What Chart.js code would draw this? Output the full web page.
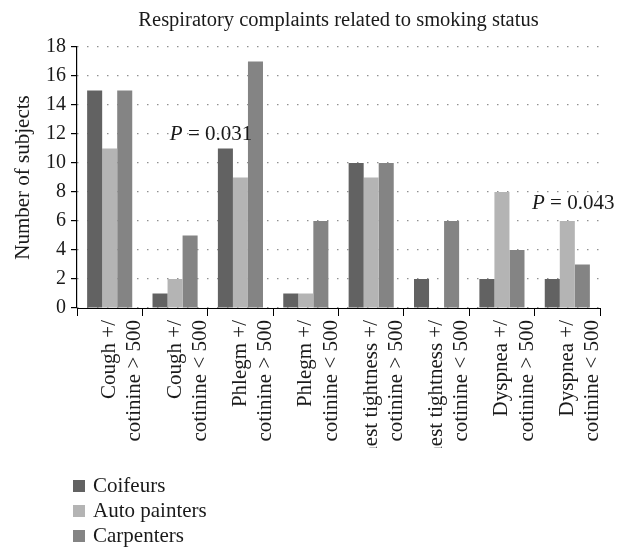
<!DOCTYPE html>
<html>
<head>
<meta charset="utf-8">
<script src="https://cdn.jsdelivr.net/npm/chart.js@4"></script>
<style>
  html, body { margin: 0; padding: 0; background: #fff; }
  #wrap { width: 625px; height: 548px; }
</style>
</head>
<body>
<div id="wrap"><canvas id="myChart" width="625" height="548"></canvas></div>
<script>
var categories = [
    ['Cough +/', 'cotinine > 500'],
    ['Cough +/', 'cotinine < 500'],
    ['Phlegm +/', 'cotinine > 500'],
    ['Phlegm +/', 'cotinine < 500'],
    ['Chest tightness +/', 'cotinine > 500'],
    ['Chest tightness +/', 'cotinine < 500'],
    ['Dyspnea +/', 'cotinine > 500'],
    ['Dyspnea +/', 'cotinine < 500']
];
var seriesNames = ['Coifeurs', 'Auto painters', 'Carpenters'];
var coifeurs = [15, 1, 11, 1, 10, 2, 2, 2];
var autoPainters = [11, 2, 9, 1, 9, 0, 8, 6];
var carpenters = [15, 5, 17, 6, 10, 6, 4, 3];
var yTicks = [0, 2, 4, 6, 8, 10, 12, 14, 16, 18];

// p-value notes, anchored in data space (category index, y value)
var pTexts = [' = 0.031', ' = 0.043'];
var pCats = [0.92, 6.46];
var pValues = [12, 7.2];

var chartTitle = 'Respiratory complaints related to smoking status';
var yTitle = 'Number of subjects';
var colors = ['#626262', '#b4b4b4', '#848484'];
var serif = "'Liberation Serif', 'DejaVu Serif', serif";

var extras = {
    id: 'extras',
    afterDraw: function (chart) {
        var ctx = chart.ctx;
        var area = chart.chartArea;
        var xs = chart.scales.x, ys = chart.scales.y;
        ctx.save();
        ctx.fillStyle = '#1a1a1a';
        // title
        ctx.font = '20.5px ' + serif;
        ctx.textAlign = 'center';
        ctx.textBaseline = 'alphabetic';
        ctx.fillText(chartTitle, (area.left + area.right) / 2, 26);

        // p-values
        ctx.textAlign = 'left';
        ctx.textBaseline = 'middle';
        for (var i = 0; i < pTexts.length; i++) {
            var px = xs.getPixelForValue(pCats[i]);
            var py = ys.getPixelForValue(pValues[i]);
            ctx.font = 'italic 21px ' + serif;
            ctx.fillText('P', px, py);
            var w = ctx.measureText('P').width;
            ctx.font = '21px ' + serif;
            ctx.fillText(pTexts[i], px + w, py);
        }

        // legend
        ctx.font = '21px ' + serif;
        var rowY = [486, 511, 536];
        chart.data.datasets.forEach(function (ds, k) {
            var ly = rowY[k];
            ctx.fillStyle = ds.backgroundColor;
            ctx.fillRect(73, ly - 6, 12, 12);
            ctx.fillStyle = '#1a1a1a';
            ctx.fillText(ds.label, 93, ly);
        });
        ctx.restore();
    }
};

var ctx = document.getElementById('myChart').getContext('2d');
var myChart = new Chart(ctx, {
    type: 'bar',
    data: {
        labels: categories,
        datasets: [
            { label: seriesNames[0], data: coifeurs, backgroundColor: colors[0] },
            { label: seriesNames[1], data: autoPainters, backgroundColor: colors[1] },
            { label: seriesNames[2], data: carpenters, backgroundColor: colors[2] }
        ]
    },
    options: {
        responsive: false,
        animation: false,
        layout: { padding: { top: 47, right: 25, bottom: 100, left: 0 } },
        datasets: {
            bar: { categoryPercentage: 0.69, barPercentage: 1.0 }
        },
        plugins: {
            legend: { display: false },
            title: { display: false },
            tooltip: { enabled: false }
        },
        scales: {
            x: {
                afterFit: function (scale) { scale.height = 140; },
                grid: {
                    offset: true,
                    drawOnChartArea: false,
                    tickLength: 8,
                    color: '#000'
                },
                border: { color: '#000', width: 1 },
                ticks: {
                    minRotation: 90,
                    maxRotation: 90,
                    autoSkip: false,
                    color: '#1a1a1a',
                    padding: 4,
                    font: { family: serif, size: 21 }
                }
            },
            y: {
                min: 0,
                max: 18,
                afterFit: function (scale) { scale.width = 77; },
                afterBuildTicks: function (scale) {
                    scale.ticks = yTicks.map(function (v) { return { value: v }; });
                },
                grid: {
                    color: '#777',
                    tickColor: '#000',
                    tickLength: 6,
                    lineWidth: 1.2
                },
                border: { color: '#000', width: 1.2, dash: [1.2, 8.8] },
                ticks: {
                    color: '#1a1a1a',
                    padding: 5,
                    font: { family: serif, size: 20 }
                },
                title: {
                    display: true,
                    text: yTitle,
                    color: '#1a1a1a',
                    padding: { top: 11, bottom: 0 },
                    font: { family: serif, size: 21 }
                }
            }
        }
    },
    plugins: [extras]
});
</script>
</body>
</html>
